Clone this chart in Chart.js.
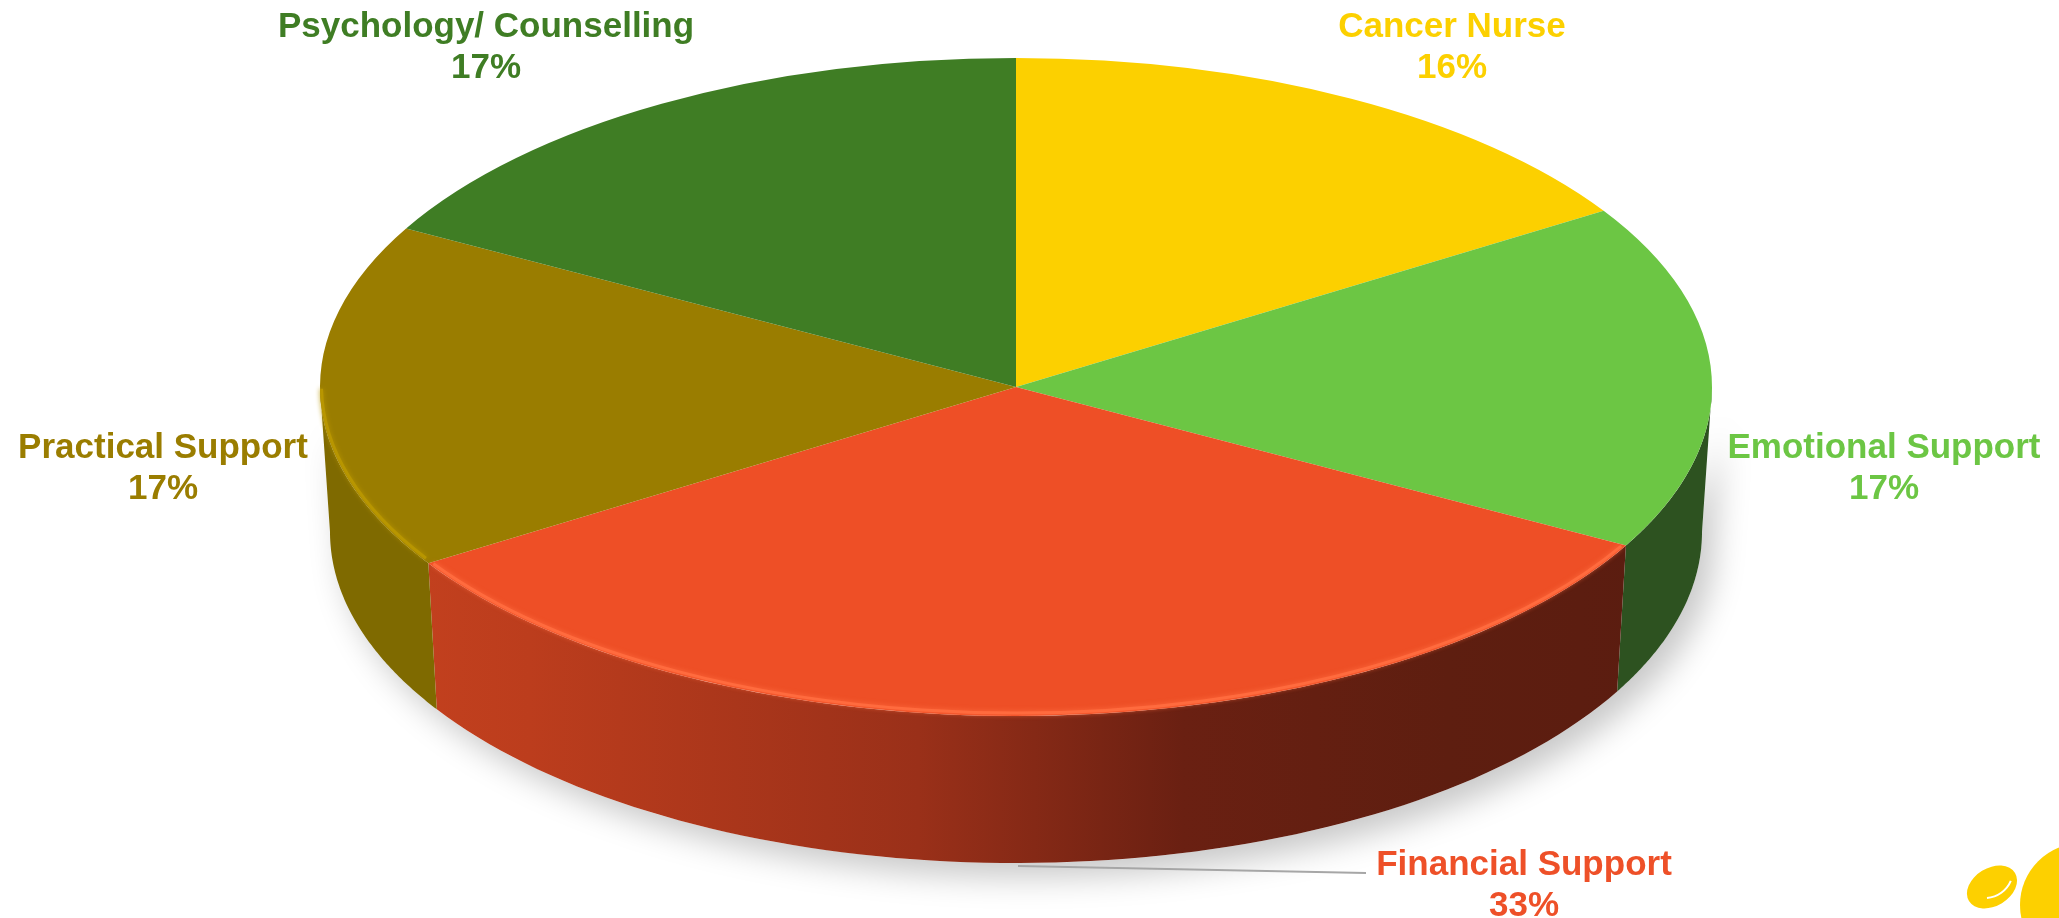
<!DOCTYPE html>
<html>
<head>
<meta charset="utf-8">
<script src="https://cdn.jsdelivr.net/npm/chart.js@4.4.1/dist/chart.umd.min.js"></script>
<style>
  html, body { margin: 0; padding: 0; background: #fff; overflow: hidden; }
  #wrap { width: 2059px; height: 918px; }
</style>
</head>
<body>
<div id="wrap"><canvas id="pie" width="2059" height="918"></canvas></div>
<script>
// Data
const categories = ['Cancer Nurse', 'Emotional Support', 'Financial Support', 'Practical Support', 'Psychology/ Counselling'];
const shares = [16, 17, 33, 17, 17];
const sliceColors = ['#FCD000', '#6CC644', '#EE4F26', '#9A7D00', '#3F7D24'];
const labelColors = ['#FCD000', '#6CC644', '#EE5028', '#9A7D00', '#3F7D24'];
const wallColors = ['#B39500', '#2D5220', null, '#7F6A00', '#2C5A1A'];

// Layout (pixels) - tilted pie top face and bottom rim
const TOP = { cx: 1016, cy: 387, rx: 696, ry: 329 };
const BOT = { cx: 1016, cy: 532, rx: 686, ry: 331 };
const labelAnchors = [
    { x: 1452, y: 37 },
    { x: 1884, y: 458 },
    { x: 1524, y: 875 },
    { x: 163, y: 458 },
    { x: 486, y: 37 }
];

const ellipsePoint = (e, t) => [e.cx + e.rx * Math.cos(t), e.cy + e.ry * Math.sin(t)];

// front half of the rim is canvas angles 0..PI
const frontPart = (start, end) => {
    for (const k of [-2, -1, 0, 1]) {
        const a = Math.max(start + k * 2 * Math.PI, 0);
        const b = Math.min(end + k * 2 * Math.PI, Math.PI);
        if (b > a) return [a, b];
    }
    return null;
};

const wallPath = (ctx, a, b) => {
    const n = 80;
    ctx.beginPath();
    for (let i = 0; i <= n; i++) {
        const [x, y] = ellipsePoint(TOP, a + (b - a) * i / n);
        i ? ctx.lineTo(x, y) : ctx.moveTo(x, y);
    }
    for (let i = n; i >= 0; i--) {
        const [x, y] = ellipsePoint(BOT, a + (b - a) * i / n);
        ctx.lineTo(x, y);
    }
    ctx.closePath();
};

const tiltPie = {
    id: 'tiltPie',
    beforeDatasetsDraw(chart) {
        const ctx = chart.ctx;
        const arcs = chart.getDatasetMeta(0).data;

        // soft shadow under the pie
        ctx.save();
        ctx.shadowColor = 'rgba(0,0,0,0.22)';
        ctx.shadowBlur = 32;
        ctx.shadowOffsetX = 12;
        ctx.shadowOffsetY = 14;
        ctx.fillStyle = '#fff';
        wallPath(ctx, 0, Math.PI);
        ctx.fill();
        ctx.restore();

        // side walls
        const grad = ctx.createLinearGradient(TOP.cx - TOP.rx, 0, TOP.cx + TOP.rx, 0);
        grad.addColorStop(0, '#C8431F');
        grad.addColorStop(0.15, '#BC3D1D');
        grad.addColorStop(0.43, '#9A3019');
        grad.addColorStop(0.62, '#6A2012');
        grad.addColorStop(0.81, '#5E1E10');
        grad.addColorStop(1, '#5A1C10');
        arcs.forEach((arc, i) => {
            const part = frontPart(arc.startAngle, arc.endAngle);
            if (!part) return;
            ctx.fillStyle = wallColors[i] || grad;
            wallPath(ctx, part[0], part[1]);
            ctx.fill();
        });

        // squash the flat pie into the tilted top face
        const { x, y, outerRadius: r } = arcs[0];
        ctx.save();
        ctx.translate(TOP.cx, TOP.cy);
        ctx.scale(TOP.rx / r, TOP.ry / r);
        ctx.translate(-x, -y);
    },
    afterDatasetsDraw(chart) {
        const ctx = chart.ctx;
        ctx.restore();
        const arcs = chart.getDatasetMeta(0).data;

        // light bevel along the front rim
        const rim = { cx: TOP.cx, cy: TOP.cy - 1.5, rx: TOP.rx - 1.5, ry: TOP.ry - 1.5 };
        const rimColors = [null, null, '#FF6B3E', '#B89600', null];
        arcs.forEach((arc, i) => {
            const part = frontPart(arc.startAngle, arc.endAngle);
            if (!part || !rimColors[i]) return;
            ctx.save();
            ctx.strokeStyle = rimColors[i];
            ctx.lineWidth = 3;
            ctx.shadowColor = rimColors[i];
            ctx.shadowBlur = 5;
            ctx.beginPath();
            ctx.ellipse(rim.cx, rim.cy, rim.rx, rim.ry, 0, part[0] + 0.01, part[1] - 0.01);
            ctx.stroke();
            ctx.restore();
        });
    },
    afterDraw(chart) {
        const ctx = chart.ctx;
        const total = shares.reduce((a, b) => a + b, 0);

        // leader line for Financial Support
        ctx.save();
        ctx.strokeStyle = '#A6A6A6';
        ctx.lineWidth = 2;
        ctx.beginPath();
        ctx.moveTo(1018, 866);
        ctx.lineTo(1366, 873);
        ctx.stroke();
        ctx.restore();

        ctx.save();
        ctx.font = 'bold 35px "Liberation Sans", Arial, sans-serif';
        ctx.textAlign = 'center';
        ctx.textBaseline = 'alphabetic';
        categories.forEach((name, i) => {
            const p = labelAnchors[i];
            ctx.fillStyle = labelColors[i];
            ctx.fillText(name, p.x, p.y);
            ctx.fillText(Math.round(shares[i] / total * 100) + '%', p.x, p.y + 41);
        });
        ctx.restore();

        // corner logo fragment
        ctx.save();
        ctx.fillStyle = '#FDD000';
        ctx.beginPath();
        ctx.ellipse(1992, 887, 27, 19, -0.55, 0, Math.PI * 2);
        ctx.fill();
        ctx.beginPath();
        ctx.arc(2082, 905, 62, 0, Math.PI * 2);
        ctx.fill();
        ctx.strokeStyle = '#fff';
        ctx.lineWidth = 2;
        ctx.beginPath();
        ctx.arc(1985, 870, 28, 0.4, 1.5);
        ctx.stroke();
        ctx.restore();
    }
};

new Chart(document.getElementById('pie'), {
    type: 'pie',
    data: {
        labels: categories,
        datasets: [{
            data: shares,
            backgroundColor: sliceColors,
            borderWidth: 0
        }]
    },
    options: {
        responsive: false,
        animation: false,
        events: [],
        plugins: {
            legend: { display: false },
            tooltip: { enabled: false }
        }
    },
    plugins: [tiltPie]
});
</script>
</body>
</html>
